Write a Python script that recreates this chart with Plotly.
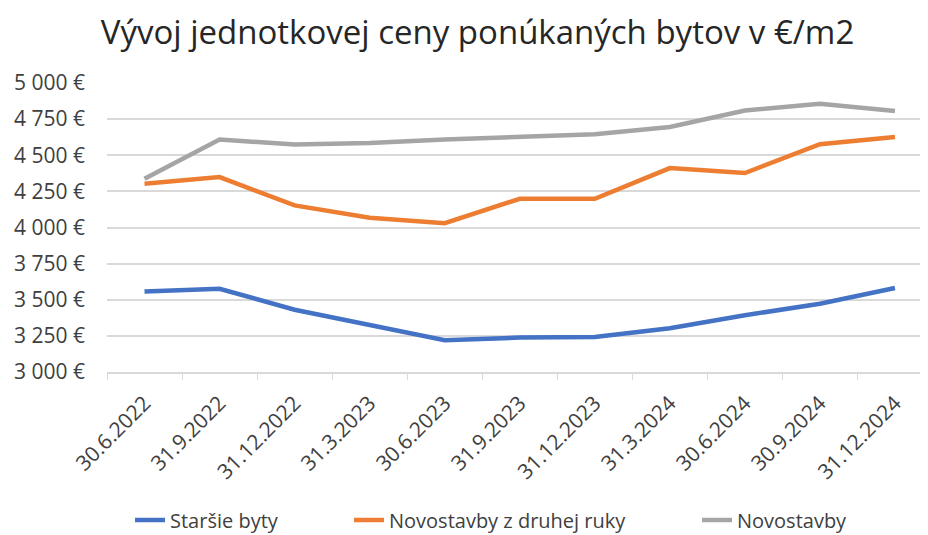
import plotly.graph_objects as go

categories = ["30.6.2022", "31.9.2022", "31.12.2022", "31.3.2023", "30.6.2023", "31.9.2023",
              "31.12.2023", "31.3.2024", "30.6.2024", "30.9.2024", "31.12.2024"]
starsie_byty = [3557, 3576, 3431, 3326, 3220, 3238, 3243, 3303, 3393, 3472, 3581]
novostavby_druha_ruka = [4303, 4349, 4153, 4068, 4030, 4199, 4199, 4411, 4377, 4576, 4627]
novostavby = [4338, 4609, 4574, 4585, 4609, 4627, 4645, 4696, 4810, 4856, 4807]
series_names = ["Staršie byty", "Novostavby z druhej ruky", "Novostavby"]
y_tickvals = [3000, 3250, 3500, 3750, 4000, 4250, 4500, 4750, 5000]
y_ticktext = ["3 000 €", "3 250 €", "3 500 €", "3 750 €", "4 000 €", "4 250 €", "4 500 €", "4 750 €", "5 000 €"]
title_text = "Vývoj jednotkovej ceny ponúkaných bytov v €/m2"

colors = ["#4472C4", "#ED7D31", "#A5A5A5"]
FONT = "Open Sans"
TXT = "#404040"
W, H = 920, 527  # page body adds an 8px margin

legend_ids = ["legend", "legend2", "legend3"]
legend_x = [130, 349, 697]  # left edge of each legend entry (page px)

fig = go.Figure()
for name, vals, col, lg in zip(series_names, [starsie_byty, novostavby_druha_ruka, novostavby], colors, legend_ids):
    fig.add_trace(go.Scatter(x=categories, y=vals, name=name, mode="lines",
                             line=dict(color=col, width=4.5), legend=lg))

legend_common = dict(orientation="h", xanchor="left", xref="container",
                     y=1 - 512 / H, yanchor="middle", yref="container",
                     font=dict(size=20, color=TXT, family=FONT),
                     bgcolor="rgba(0,0,0,0)", borderwidth=0)

fig.update_layout(
    width=W, height=H,
    margin=dict(l=99, r=0, t=75, b=163, autoexpand=False),
    paper_bgcolor="white", plot_bgcolor="white",
    font=dict(family=FONT, color=TXT, size=18),
    title=dict(text=title_text, x=469.5 / W, xanchor="center", xref="container",
               y=1 - 24 / H, yanchor="middle", yref="container",
               font=dict(family=FONT, size=33, color="#262626")),
    showlegend=True,
    legend=dict(x=(legend_x[0] - 8) / W, **legend_common),
    legend2=dict(x=(legend_x[1] - 8) / W, **legend_common),
    legend3=dict(x=(legend_x[2] - 8) / W, **legend_common),
)
fig.update_xaxes(type="category", range=[-0.5, 10.44], tickangle=-45,
                 tickson="boundaries", ticks="outside", ticklen=6, tickcolor="#D9D9D9",
                 showline=True, linecolor="#D9D9D9", linewidth=1.5,
                 showgrid=False, ticklabelstandoff=9,
                 tickfont=dict(size=21, color=TXT))
fig.update_yaxes(range=[3000, 5000], tickvals=y_tickvals, ticktext=y_ticktext,
                 showgrid=True, gridcolor="#D9D9D9", gridwidth=1.5,
                 zeroline=False, showline=False, ticks="", ticklabelstandoff=21,
                 tickfont=dict(size=21, color=TXT))

fig.write_html("out.html")
